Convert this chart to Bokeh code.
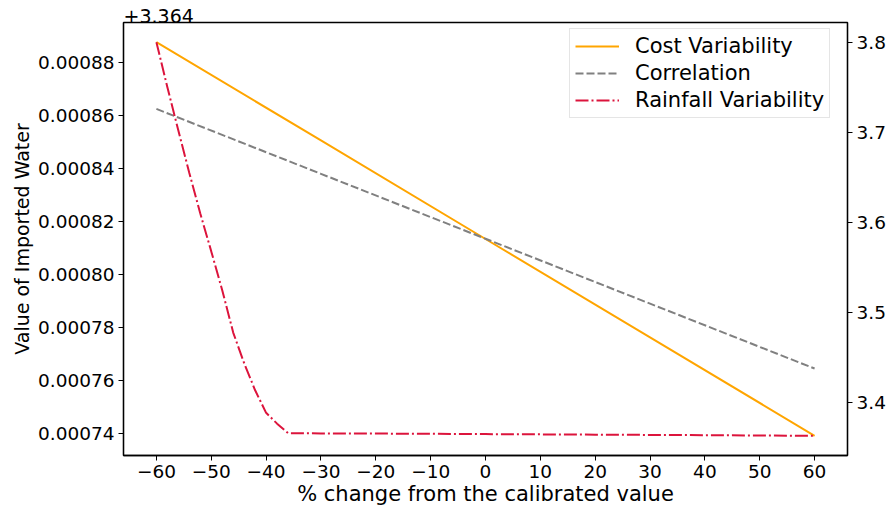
from bokeh.plotting import figure
from bokeh.models import (Range1d, LinearAxis, FixedTicker, PrintfTickFormatter,
                          Legend, LegendItem)
from bokeh.embed import file_html
from bokeh.resources import INLINE

# ---- data ----
OFFSET = 3.364
x_lin = [-60, -30, 0, 30, 60]
cost_variability = [3.3648878, 3.3648507, 3.3648135, 3.3647764, 3.3647392]
correlation = [3.3648626, 3.3648381, 3.3648136, 3.3647891, 3.3647646]

x_rain = [-60, -58, -56, -54, -52, -50, -48, -46, -44, -42, -40, -38, -36,
          -30, -20, -10, 0, 10, 20, 30, 40, 50, 60]
rainfall_variability = [3.800, 3.750, 3.702, 3.655, 3.610, 3.568, 3.525, 3.478,
                        3.444, 3.414, 3.389, 3.377, 3.3665,
                        3.3662, 3.3660, 3.3657, 3.3654, 3.3651, 3.3648,
                        3.3645, 3.3642, 3.3639, 3.3635]

x_ticks = [-60, -50, -40, -30, -20, -10, 0, 10, 20, 30, 40, 50, 60]
left_ticks = [0.00074, 0.00076, 0.00078, 0.00080, 0.00082, 0.00084, 0.00086, 0.00088]
right_ticks = [3.4, 3.5, 3.6, 3.7, 3.8]

FONT = "DejaVu Sans"
FS = "18.5px"

# ranges with matplotlib-like 5% margins
cost_off = [v - OFFSET for v in cost_variability]
corr_off = [v - OFFSET for v in correlation]
lo = min(cost_off + corr_off); hi = max(cost_off + corr_off)
pad = 0.05 * (hi - lo)
rlo = min(rainfall_variability); rhi = max(rainfall_variability)
rpad = 0.05 * (rhi - rlo)
xpad = 0.05 * (max(x_lin) - min(x_lin))

p = figure(frame_width=724, frame_height=433,
           x_range=Range1d(min(x_lin) - xpad, max(x_lin) + xpad),
           y_range=Range1d(lo - pad, hi + pad),
           output_backend="svg", toolbar_location=None,
           min_border_left=123, min_border_right=41,
           min_border_top=22, min_border_bottom=53)
p.extra_y_ranges = {"rain": Range1d(rlo - rpad, rhi + rpad)}

p.title.text = "+" + str(OFFSET)
p.title.align = "left"
p.title.text_font = FONT
p.title.text_font_size = "19px"
p.title.text_font_style = "normal"
p.title.text_color = "black"
p.title.standoff = 0
p.title.offset = 0

p.xgrid.visible = False
p.ygrid.visible = False
p.outline_line_color = "black"
p.outline_line_width = 1.3
p.background_fill_color = "white"
p.border_fill_color = "white"

r1 = p.line(x_lin, cost_off, line_color="#FFA500", line_width=2)
r2 = p.line(x_lin, corr_off, line_color="#808080", line_width=2, line_dash="8 3")
r3 = p.line(x_rain, rainfall_variability, line_color="#DC143C", line_width=2,
            line_dash="13 3 2 3", y_range_name="rain")

# axes
xa = p.xaxis[0]
xa.ticker = FixedTicker(ticks=x_ticks)
xa.major_label_overrides = {t: (str(t).replace("-", "\u2212")) for t in x_ticks}
xa.axis_label = "% change from the calibrated value"

ya = p.yaxis[0]
ya.ticker = FixedTicker(ticks=left_ticks)
ya.formatter = PrintfTickFormatter(format="%.5f")
ya.axis_label = "Value of Imported Water"

ra = LinearAxis(y_range_name="rain", ticker=FixedTicker(ticks=right_ticks),
                formatter=PrintfTickFormatter(format="%.1f"))
p.add_layout(ra, "right")

for ax in [xa, ya, ra]:
    ax.minor_tick_line_color = None
    ax.major_tick_out = 5
    ax.major_tick_in = 0
    ax.major_tick_line_color = "black"
    ax.axis_line_color = "black"
    ax.axis_line_width = 1.3
    ax.major_label_text_font = FONT
    ax.major_label_text_font_size = FS
    ax.major_label_text_color = "black"
    ax.axis_label_text_font = FONT
    ax.axis_label_text_font_size = "21px"
    ax.axis_label_text_font_style = "normal"
    ax.axis_label_text_color = "black"
    ax.major_label_standoff = 4
xa.axis_label_standoff = 1
ya.axis_label_standoff = 2
ya.axis_label_text_font_size = "19px"

legend = Legend(items=[LegendItem(label="Cost Variability", renderers=[r1]),
                       LegendItem(label="Correlation", renderers=[r2]),
                       LegendItem(label="Rainfall Variability", renderers=[r3])],
                location=(446, 337))
legend.label_text_font = FONT
legend.label_text_font_size = "21px"
legend.label_text_color = "black"
legend.glyph_width = 44
legend.glyph_height = 20
legend.label_height = 20
legend.label_standoff = 16
legend.padding = 5
legend.spacing = 3
legend.margin = 0
legend.border_line_color = "#cccccc"
legend.border_line_width = 1
legend.background_fill_alpha = 0.8
p.add_layout(legend, "center")

open("out.html", "w").write(file_html(p, INLINE))
